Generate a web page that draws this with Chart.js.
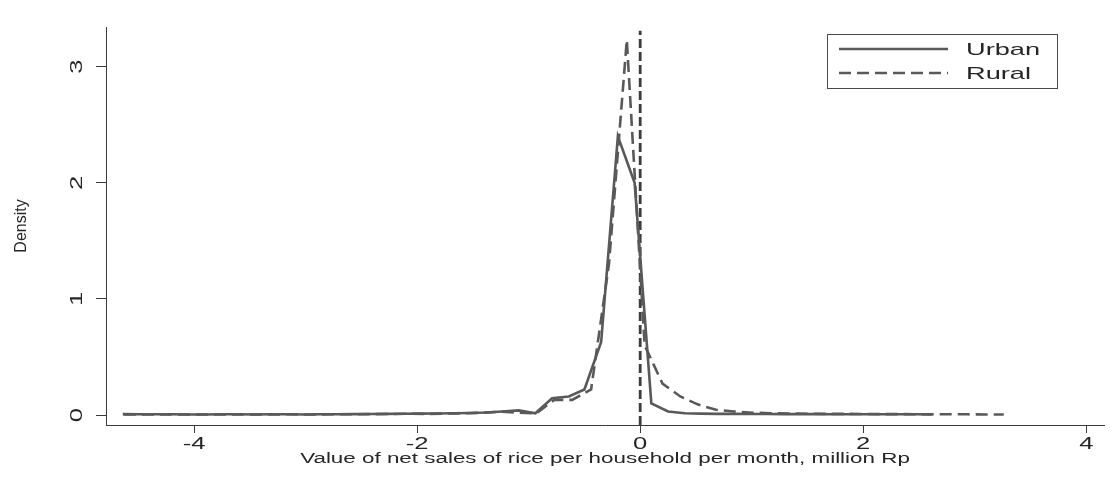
<!DOCTYPE html>
<html>
<head>
<meta charset="utf-8">
<script src="https://cdn.jsdelivr.net/npm/chart.js@4.4.1/dist/chart.umd.min.js"></script>
<style>
  html, body { margin: 0; padding: 0; background: #ffffff; }
  #c { display: block; width: 1120px; height: 481px; }
</style>
</head>
<body>
<canvas id="c" width="1120" height="481"></canvas>
<script>
// ---------- data ----------
const SERIES_LABELS = ['Urban', 'Rural'];
const X_TITLE = 'Value of net sales of rice per household per month, million Rp';
const Y_TITLE = 'Density';
const X_TICKS = [-4, -2, 0, 2, 4];
const Y_TICKS = [0, 1, 2, 3];

const URBAN_X = [-4.64, -4.49, -4.34, -4.20, -4.05, -3.90, -3.75, -3.60, -3.46, -3.31,
                 -3.16, -3.01, -2.86, -2.72, -2.57, -2.42, -2.27, -2.12, -1.98, -1.83,
                 -1.68, -1.53, -1.38, -1.24, -1.09, -0.94, -0.79, -0.64, -0.50, -0.35,
                 -0.20, -0.05, 0.10, 0.25, 0.40, 0.54, 0.69, 0.84, 0.99, 1.14,
                 1.28, 1.43, 1.58, 1.73, 1.88, 2.02, 2.17, 2.32, 2.47, 2.62];
const URBAN_Y = [0.008, 0.007, 0.006, 0.006, 0.005, 0.005, 0.006, 0.006, 0.005, 0.006,
                 0.006, 0.005, 0.006, 0.007, 0.008, 0.009, 0.010, 0.011, 0.012, 0.013,
                 0.015, 0.018, 0.022, 0.030, 0.040, 0.015, 0.145, 0.160, 0.220, 0.630,
                 2.400, 2.000, 0.100, 0.030, 0.015, 0.012, 0.010, 0.010, 0.009, 0.009,
                 0.008, 0.008, 0.008, 0.007, 0.007, 0.007, 0.006, 0.006, 0.006, 0.005];

const RURAL_X = [-4.63, -4.47, -4.31, -4.15, -3.99, -3.83, -3.67, -3.51, -3.34, -3.18,
                 -3.02, -2.86, -2.70, -2.54, -2.38, -2.22, -2.06, -1.90, -1.73, -1.57,
                 -1.41, -1.25, -1.09, -0.93, -0.77, -0.61, -0.44, -0.28, -0.12, 0.04,
                 0.20, 0.36, 0.52, 0.68, 0.84, 1.01, 1.17, 1.33, 1.49, 1.65,
                 1.81, 1.97, 2.13, 2.29, 2.45, 2.62, 2.78, 2.94, 3.10, 3.26];
const RURAL_Y = [0.005, 0.004, 0.005, 0.004, 0.004, 0.005, 0.006, 0.004, 0.005, 0.006,
                 0.005, 0.005, 0.007, 0.006, 0.008, 0.009, 0.011, 0.010, 0.013, 0.015,
                 0.020, 0.028, 0.020, 0.015, 0.130, 0.130, 0.220, 1.300, 3.230, 0.600,
                 0.270, 0.160, 0.090, 0.045, 0.030, 0.020, 0.015, 0.012, 0.011, 0.010,
                 0.010, 0.009, 0.008, 0.008, 0.007, 0.007, 0.006, 0.006, 0.005, 0.005];

// vertical reference line at zero
const REF_X = [0, 0];
const REF_Y = [-0.086, 3.31];

// ---------- rendering ----------
const canvas = document.getElementById('c');
const ctx = canvas.getContext('2d');

// the reference draws its labels wide along the baseline; widen them (not the y title)
const SX = 1.6;
const NO_STRETCH = new Set([Y_TITLE]);
const baseFill = ctx.fillText;
const baseMeasure = ctx.measureText;
ctx.fillText = function (text, x, y, maxWidth) {
  if (NO_STRETCH.has(String(text))) {
    return maxWidth === undefined ? baseFill.call(this, text, x, y) : baseFill.call(this, text, x, y, maxWidth);
  }
  this.save();
  this.translate(x, y);
  this.scale(SX, 1);
  if (maxWidth === undefined) baseFill.call(this, text, 0, 0);
  else baseFill.call(this, text, 0, 0, maxWidth / SX);
  this.restore();
};
ctx.measureText = function (text) {
  const m = baseMeasure.call(this, text);
  const k = NO_STRETCH.has(String(text)) ? 1 : SX;
  return {
    width: m.width * k,
    actualBoundingBoxLeft: m.actualBoundingBoxLeft * k,
    actualBoundingBoxRight: m.actualBoundingBoxRight * k,
    actualBoundingBoxAscent: m.actualBoundingBoxAscent,
    actualBoundingBoxDescent: m.actualBoundingBoxDescent,
    fontBoundingBoxAscent: m.fontBoundingBoxAscent,
    fontBoundingBoxDescent: m.fontBoundingBoxDescent
  };
};

const FONT = '"Liberation Sans", Arial, sans-serif';
const LINE_COLOR = '#595959';
const AXIS_COLOR = '#3a3a3a';
const TEXT_COLOR = '#262626';

const toPts = (xs, ys) => xs.map((x, i) => ({ x: x, y: ys[i] }));

const boxLegend = {
  id: 'boxLegend',
  afterDraw(chart) {
    const c = chart.ctx;
    const L = 827, T = 34, W = 230, H = 54;
    c.save();
    c.fillStyle = '#ffffff';
    c.fillRect(L, T, W, H);
    c.strokeStyle = '#4a4a4a';
    c.lineWidth = 1;
    c.strokeRect(L + 0.5, T + 0.5, W, H);
    const rows = [49, 73];
    for (let i = 0; i < 2; i++) {
      const ds = chart.data.datasets[i];
      c.beginPath();
      c.setLineDash(ds.borderDash || []);
      c.strokeStyle = ds.borderColor;
      c.lineWidth = ds.borderWidth;
      c.moveTo(839, rows[i]);
      c.lineTo(948, rows[i]);
      c.stroke();
      c.setLineDash([]);
      c.fillStyle = TEXT_COLOR;
      c.font = '17px ' + FONT;
      c.textAlign = 'left';
      c.textBaseline = 'middle';
      c.fillText(ds.label, 966, rows[i] + 1);
    }
    c.restore();
  }
};

new Chart(ctx, {
  type: 'line',
  data: {
    datasets: [
      {
        label: SERIES_LABELS[0],
        data: toPts(URBAN_X, URBAN_Y),
        borderColor: LINE_COLOR,
        borderWidth: 2.6,
        pointRadius: 0,
        tension: 0,
        fill: false
      },
      {
        label: SERIES_LABELS[1],
        data: toPts(RURAL_X, RURAL_Y),
        borderColor: LINE_COLOR,
        borderWidth: 2.6,
        borderDash: [12, 6],
        pointRadius: 0,
        tension: 0,
        fill: false
      },
      {
        label: 'zero',
        data: toPts(REF_X, REF_Y),
        borderColor: '#3d3d3d',
        borderWidth: 2.8,
        borderDash: [9, 4],
        pointRadius: 0,
        fill: false
      }
    ]
  },
  options: {
    responsive: false,
    animation: false,
    devicePixelRatio: 1,
    layout: { padding: { left: 0, right: 16, top: 27, bottom: 13 } },
    plugins: {
      legend: { display: false },
      tooltip: { enabled: false }
    },
    scales: {
      x: {
        type: 'linear',
        min: -4.79,
        max: 4.159,
        afterBuildTicks: (s) => { s.ticks = X_TICKS.map(v => ({ value: v })); },
        afterFit: (s) => { s.height = 43; },
        ticks: {
          autoSkip: false,
          maxRotation: 0,
          padding: 2,
          color: TEXT_COLOR,
          font: { family: FONT, size: 16 }
        },
        grid: {
          display: true,
          drawOnChartArea: false,
          drawTicks: true,
          tickLength: 8,
          color: AXIS_COLOR,
          lineWidth: 1
        },
        border: { display: true, color: AXIS_COLOR, width: 1 },
        title: {
          display: true,
          text: X_TITLE,
          color: TEXT_COLOR,
          font: { family: FONT, size: 14 },
          padding: { top: 0, bottom: 0 }
        }
      },
      y: {
        type: 'linear',
        min: -0.086,
        max: 3.342,
        afterBuildTicks: (s) => { s.ticks = Y_TICKS.map(v => ({ value: v })); },
        afterFit: (s) => { s.width = 106; },
        ticks: {
          autoSkip: false,
          minRotation: 90,
          maxRotation: 90,
          crossAlign: 'center',
          padding: 11,
          color: TEXT_COLOR,
          font: { family: FONT, size: 16 }
        },
        grid: {
          display: true,
          drawOnChartArea: false,
          drawTicks: true,
          tickLength: 10,
          color: AXIS_COLOR,
          lineWidth: 1
        },
        border: { display: true, color: AXIS_COLOR, width: 1 },
        title: {
          display: true,
          text: Y_TITLE,
          color: TEXT_COLOR,
          font: { family: FONT, size: 16 },
          padding: { top: 12, bottom: 0 }
        }
      }
    }
  },
  plugins: [boxLegend]
});
</script>
</body>
</html>
